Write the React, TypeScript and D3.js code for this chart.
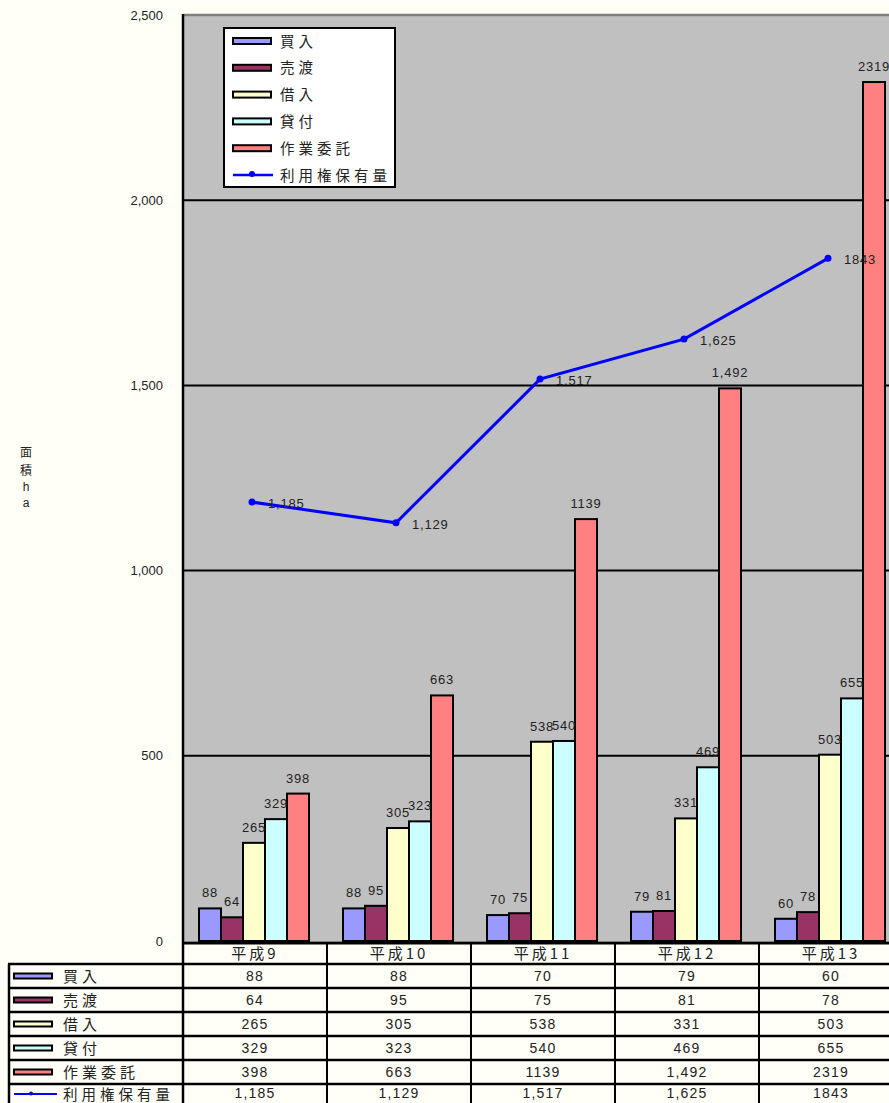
import React from 'react';
import * as d3 from 'd3';

const categories = ['平成9', '平成10', '平成11', '平成12', '平成13'];
const seriesNames = ['買入', '売渡', '借入', '貸付', '作業委託'];
const kaiire = [88, 88, 70, 79, 60];
const uriwatashi = [64, 95, 75, 81, 78];
const kariire = [265, 305, 538, 331, 503];
const kashitsuke = [329, 323, 540, 469, 655];
const sagyouItaku = [398, 663, 1139, 1492, 2319];
const riyoukenValues = [1185, 1129, 1517, 1625, 1843];
const lineName = '利用権保有量';
const sagyouLabels = ['398', '663', '1139', '1,492', '2319'];
const riyoukenLabels = ['1,185', '1,129', '1,517', '1,625', '1843'];
const yTicks = [0, 500, 1000, 1500, 2000, 2500];
const yTickLabels = ['0', '500', '1,000', '1,500', '2,000', '2,500'];
const yTitle = ['面', '積', 'h', 'a'];
const colors = ['#9999FF', '#993366', '#FFFFCC', '#CCFFFF', '#FF8080'];
const lineColor = '#0000FF';

const seriesValues = [kaiire, uriwatashi, kariire, kashitsuke, sagyouItaku];
const seriesLabels = [
  kaiire.map(String),
  uriwatashi.map(String),
  kariire.map(String),
  kashitsuke.map(String),
  sagyouLabels,
];

const W = 889;
const H = 1103;
const NUM = "'Liberation Sans', Arial, sans-serif";
const CJK = "'Noto Sans CJK JP', sans-serif";

export default function App() {
  const plotLeft = 183;
  const plotTop = 15;
  const plotBottom = 941;
  const x = d3.scaleBand<string>().domain(categories).range([plotLeft, plotLeft + 144 * 5]);
  const xi = d3.scaleBand<string>().domain(seriesNames).range([16, 126]);
  const y = d3.scaleLinear().domain([0, 2500]).range([plotBottom, plotTop]);
  const plotRight = plotLeft + 144 * 5;

  const lineX = (i: number) => (x(categories[i]) as number) + x.bandwidth() / 2 - 3;
  const linePath = d3
    .line<number>()
    .x((_, i) => lineX(i))
    .y((d) => y(d))(riyoukenValues) as string;

  const legendTop = 28;
  const legendStep = 26.8;
  const rowTop = 964;
  const rowH = 24;
  const allRows = [...seriesNames, lineName];
  const tableLabels = [...seriesLabels, riyoukenLabels];

  return (
    <div style={{ position: 'absolute', left: 0, top: 0, width: W, height: H, background: '#FFFFF8' }}>
      <svg width={W} height={H} style={{ display: 'block' }}>
        <rect x={0} y={0} width={W} height={H} fill="#FFFFF8" />
        {/* plot area */}
        <rect x={plotLeft} y={plotTop} width={plotRight - plotLeft} height={plotBottom - plotTop} fill="#C0C0C0" />
        <line x1={plotLeft} x2={plotRight} y1={plotTop} y2={plotTop} stroke="#808080" strokeWidth={2.5} />
        {yTicks.slice(1, -1).map((t) => (
          <line key={t} x1={plotLeft} x2={plotRight} y1={y(t)} y2={y(t)} stroke="#000" strokeWidth={2} />
        ))}
        {/* y tick labels */}
        {yTicks.map((t, i) => (
          <text key={t} x={163} y={y(t) + 4.5} textAnchor="end" fontFamily={NUM} fontSize={13} fill="#222">
            {yTickLabels[i]}
          </text>
        ))}
        {/* y title */}
        {yTitle.map((c, i) => (
          <text key={i} x={26} y={[457, 475, 491, 507][i]} textAnchor="middle" fontFamily={i < 2 ? CJK : NUM} fontSize={12} fill="#222">
            {c}
          </text>
        ))}
        {/* bars */}
        {seriesValues.map((vals, s) =>
          vals.map((v, i) => {
            const bx = (x(categories[i]) as number) + (xi(seriesNames[s]) as number);
            return (
              <rect key={`${s}-${i}`} x={bx} y={y(v)} width={xi.bandwidth()} height={plotBottom - y(v)} fill={colors[s]} stroke="#000" strokeWidth={2} />
            );
          })
        )}
        {/* bar labels */}
        {seriesValues.map((vals, s) =>
          vals.map((v, i) => {
            const bx = (x(categories[i]) as number) + (xi(seriesNames[s]) as number) + xi.bandwidth() / 2;
            return (
              <text key={`l${s}-${i}`} x={bx} y={y(v) - 11} textAnchor="middle" fontFamily={NUM} fontSize={13} letterSpacing={0.8} fill="#222">
                {seriesLabels[s][i]}
              </text>
            );
          })
        )}
        {/* line */}
        <path d={linePath} fill="none" stroke={lineColor} strokeWidth={3} />
        {riyoukenValues.map((v, i) => (
          <circle key={`p${i}`} cx={lineX(i)} cy={y(v)} r={3.5} fill={lineColor} />
        ))}
        {riyoukenValues.map((v, i) => (
          <text key={`pl${i}`} x={lineX(i) + 16} y={y(v) + 6} fontFamily={NUM} fontSize={13} letterSpacing={0.8} fill="#222">
            {riyoukenLabels[i]}
          </text>
        ))}
        {/* left axis */}
        <line x1={plotLeft} x2={plotLeft} y1={plotTop - 1} y2={H} stroke="#000" strokeWidth={2.5} />
        {/* legend */}
        <rect x={224} y={legendTop} width={171} height={159} fill="#fff" stroke="#000" strokeWidth={2} />
        {seriesNames.map((n, s) => {
          const cy = legendTop + 13 + s * legendStep;
          return (
            <g key={n}>
              <rect x={233} y={cy - 3} width={38} height={6} fill={colors[s]} stroke="#000" strokeWidth={2} />
              <text x={280} y={cy + 5.5} fontFamily={CJK} fontSize={14.5} letterSpacing={4} fill="#222">
                {n}
              </text>
            </g>
          );
        })}
        {(() => {
          const cy = legendTop + 13 + 5 * legendStep;
          return (
            <g>
              <line x1={233} x2={273} y1={cy} y2={cy} stroke={lineColor} strokeWidth={2.5} />
              <circle cx={252} cy={cy - 1} r={3} fill={lineColor} />
              <text x={280} y={cy + 5.5} fontFamily={CJK} fontSize={14.5} letterSpacing={4} fill="#222">
                {lineName}
              </text>
            </g>
          );
        })()}
        {/* data table */}
        <line x1={plotLeft} x2={plotRight} y1={943} y2={943} stroke="#000" strokeWidth={3} />
        {categories.map((c) => (
          <g key={c}>
            <line x1={(x(c) as number) + x.bandwidth()} x2={(x(c) as number) + x.bandwidth()} y1={943} y2={H} stroke="#000" strokeWidth={2} />
            <text x={(x(c) as number) + x.bandwidth() / 2} y={959} textAnchor="middle" fontFamily={CJK} fontSize={15} letterSpacing={3} fill="#222">
              {c}
            </text>
          </g>
        ))}
        <line x1={9} x2={9} y1={rowTop} y2={H} stroke="#000" strokeWidth={2.5} />
        {allRows.map((n, r) => {
          const top = rowTop + r * rowH;
          const cy = top + 12;
          const last = r === allRows.length - 1;
          return (
            <g key={n}>
              <line x1={8} x2={plotRight} y1={top} y2={top} stroke="#000" strokeWidth={2.5} />
              {r < 5 ? (
                <rect x={14} y={cy - 2.5} width={38} height={5} fill={colors[r]} stroke="#000" strokeWidth={2} />
              ) : (
                <g>
                  <line x1={14} x2={57} y1={cy - 2} y2={cy - 2} stroke={lineColor} strokeWidth={2} />
                  <circle cx={31} cy={cy - 2.5} r={2} fill={lineColor} />
                </g>
              )}
              <text x={63} y={last ? cy + 3.5 : cy + 6} fontFamily={CJK} fontSize={last ? 14.5 : 15} letterSpacing={4} fill="#222">
                {n}
              </text>
              {categories.map((c, i) => (
                <text key={c} x={(x(c) as number) + x.bandwidth() / 2} y={last ? cy + 2 : cy + 5} textAnchor="middle" fontFamily={NUM} fontSize={14} letterSpacing={1.2} fill="#222">
                  {tableLabels[r][i]}
                </text>
              ))}
            </g>
          );
        })}
      </svg>
    </div>
  );
}
